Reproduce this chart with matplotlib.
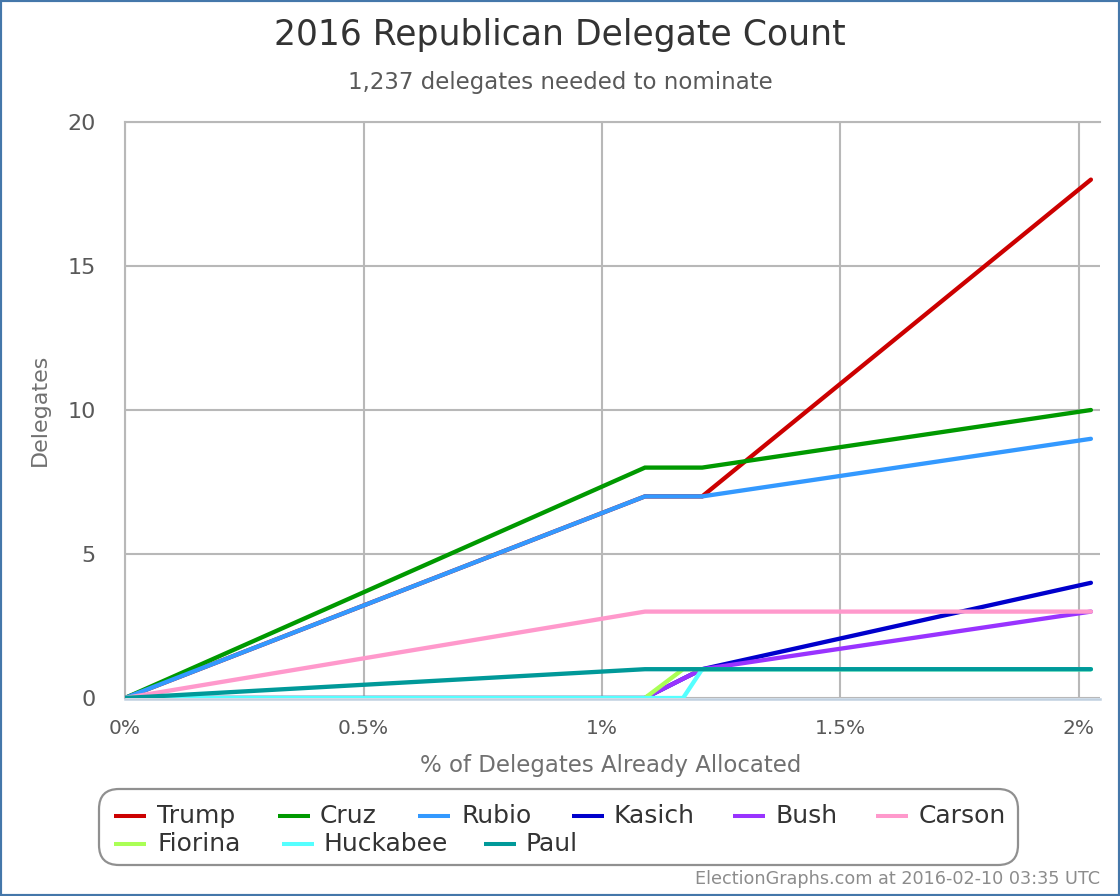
import matplotlib
matplotlib.use('Agg')
import matplotlib.pyplot as plt
from matplotlib.patches import FancyBboxPatch, Rectangle
from matplotlib.lines import Line2D

W = 1120
H = 896

# % of delegates allocated at each update
pct = [0, 1.09, 1.17, 1.21, 2.025]

trump = [0, 7, 7, 7, 18]
cruz = [0, 8, 8, 8, 10]
rubio = [0, 7, 7, 7, 9]
kasich = [0, 0, 0.67, 1, 4]
bush = [0, 0, 0.67, 1, 3]
carson = [0, 3, 3, 3, 3]
fiorina = [0, 0, 1, 1, 1]
huckabee = [0, 0, 0, 1, 1]
paul = [0, 1, 1, 1, 1]

names = ['Trump', 'Cruz', 'Rubio', 'Kasich', 'Bush', 'Carson', 'Fiorina', 'Huckabee', 'Paul']
series = [trump, cruz, rubio, kasich, bush, carson, fiorina, huckabee, paul]
colors = ['#cc0000', '#009900', '#3399ff', '#0000cc', '#9933ff', '#ff99cc', '#aaff55', '#55ffff', '#009999']

x_ticks = [0, 0.5, 1, 1.5, 2]
x_labels = ['0%', '0.5%', '1%', '1.5%', '2%']
y_ticks = [0, 5, 10, 15, 20]

plt.rcParams['font.family'] = 'DejaVu Sans'

fig = plt.figure(figsize=(W / 100, H / 100), dpi=100)
fig.patch.set_facecolor('white')

# axes in pixel terms
left, right, top, bottom = 125, 1100, 122, 698
ax = fig.add_axes([left / W, 1 - bottom / H, (right - left) / W, (bottom - top) / H])

for s, c, n in zip(series, colors, names):
    ax.plot(pct, s, color=c, lw=3.1, label=n, solid_capstyle='round', solid_joinstyle='miter', zorder=3)

ax.set_xlim(0, (right - left) / 477)
ax.set_ylim(0, 20)
ax.set_xticks(x_ticks)
ax.set_xticklabels(x_labels)
ax.set_yticks(y_ticks)
ax.grid(True, color='#b8b8b8', lw=1.5)
ax.set_axisbelow(True)
ax.tick_params(axis='x', length=0, labelsize=14.5, labelcolor='#595959', pad=15)
ax.tick_params(axis='y', length=0, labelsize=16, labelcolor='#595959', pad=21)
for side in ['right', 'bottom']:
    ax.spines[side].set_visible(False)
for side in ['left', 'top']:
    ax.spines[side].set_color('#b8b8b8')
    ax.spines[side].set_linewidth(1.5)
fig.add_artist(Line2D([left / W, 1100 / W], [1 - 699 / H] * 2, color='#c0d0e0', lw=1.8))

fig.text(560 / W, 1 - 35 / H, '2016 Republican Delegate Count', ha='center', va='center', fontsize=24.9, color='#333333')
fig.text(560 / W, 1 - 82 / H, '1,237 delegates needed to nominate', ha='center', va='center', fontsize=16.5, color='#595959')
fig.text(40 / W, 1 - 410 / H, 'Delegates', ha='center', va='center', rotation=90, fontsize=16, color='#707070')
fig.text(611 / W, 1 - 765 / H, '% of Delegates Already Allocated', ha='center', va='center', fontsize=16.5, color='#707070')
fig.text(1100 / W, 1 - 879 / H, 'ElectionGraphs.com at 2016-02-10 03:35 UTC', ha='right', va='center', fontsize=12.7, color='#8c8c8c')

# legend box drawn by hand to keep the uneven column spacing
overlay = fig.add_axes([0, 0, 1, 1], facecolor='none')
overlay.set_xlim(0, W)
overlay.set_ylim(H, 0)
overlay.axis('off')
overlay.add_patch(FancyBboxPatch((99, 789), 919, 76, boxstyle='round,pad=0,rounding_size=20',
                                 fc='white', ec='#909090', lw=1.6))
legend_x = [114, 278, 418, 572, 733, 876, 114, 282, 484]
legend_rows = [0, 0, 0, 0, 0, 0, 1, 1, 1]
legend_text = [157, 320, 461, 613, 776, 919, 157, 323, 526]
for n, c, lx, tx, r in zip(names, colors, legend_x, legend_text, legend_rows):
    y = 816 + r * 28
    overlay.plot([lx, lx + 32], [y, y], color=c, lw=2.9, solid_capstyle='butt')
    overlay.text(tx, y, n, ha='left', va='center', fontsize=18, color='#333333')

# blue frame round the image
fig.add_artist(Rectangle((0, 0), 1, 1, transform=fig.transFigure, fill=False, ec='#4477aa', lw=3))

fig.savefig('out.png', dpi=100)
